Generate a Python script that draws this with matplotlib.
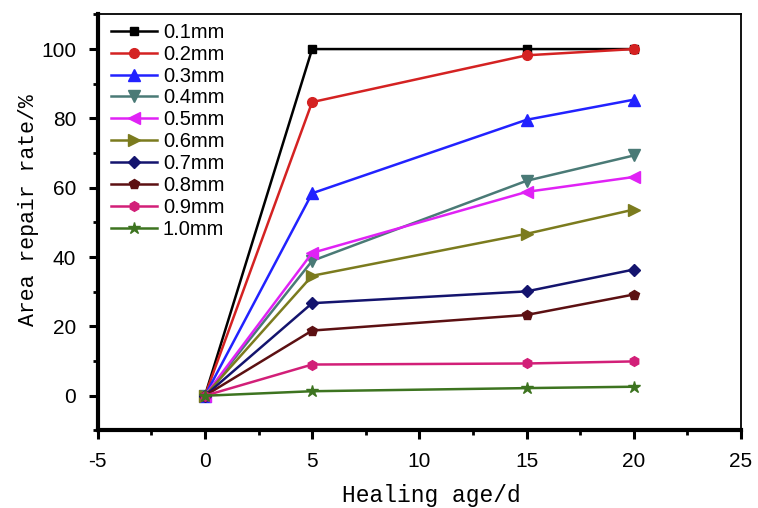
import numpy as np
import matplotlib
matplotlib.use('Agg')
import matplotlib.pyplot as plt
from matplotlib.ticker import MultipleLocator

plt.rcParams['axes.unicode_minus'] = False

# healing age (days) and area repair rate (%) per crack width
age = [0, 5, 15, 20]
widths = ['0.1mm', '0.2mm', '0.3mm', '0.4mm', '0.5mm',
          '0.6mm', '0.7mm', '0.8mm', '0.9mm', '1.0mm']
rate_01 = [0, 100, 100, 100]
rate_02 = [0, 84.7, 98.2, 100]
rate_03 = [0, 58.4, 79.6, 85.4]
rate_04 = [0, 38.9, 62.0, 69.3]
rate_05 = [0, 41.2, 58.8, 63.1]
rate_06 = [0, 34.6, 46.7, 53.7]
rate_07 = [0, 26.7, 30.1, 36.4]
rate_08 = [0, 18.8, 23.3, 29.2]
rate_09 = [0, 9.0, 9.3, 9.9]
rate_10 = [0, 1.3, 2.2, 2.6]
rates = [rate_01, rate_02, rate_03, rate_04, rate_05,
         rate_06, rate_07, rate_08, rate_09, rate_10]

colors = ['#000000', '#d42222', '#2222ff', '#4a7a76', '#e022f5',
          '#7b7b1e', '#14146e', '#5c1012', '#d21f78', '#3d7420']
markers = ['s', 'o', '^', 'v', '<', '>', 'D', 'p', 'h', '*']
msizes = [6, 7, 8, 8, 8, 8, 6, 7, 7, 9]

fig = plt.figure(figsize=(7.58, 5.08), dpi=100)
ax = fig.add_axes([97.7 / 758, 77.6 / 508, (741 - 97.7) / 758, 416 / 508])

for lab, r, c, m, ms in zip(widths, rates, colors, markers, msizes):
    ax.plot(age, r, color=c, marker=m, markersize=ms, linewidth=1.8,
            label=lab)

ax.set_xlim(-5, 25)
ax.set_ylim(-10, 110)
ax.xaxis.set_major_locator(MultipleLocator(5))
ax.xaxis.set_minor_locator(MultipleLocator(2.5))
ax.yaxis.set_major_locator(MultipleLocator(20))
ax.yaxis.set_minor_locator(MultipleLocator(10))

for side in ['left', 'bottom']:
    ax.spines[side].set_linewidth(3)
for side in ['right', 'top']:
    ax.spines[side].set_linewidth(1.3)

ax.tick_params(which='major', direction='out', length=6.5, width=2.2,
               pad=9, top=False, right=False)
ax.tick_params(which='minor', direction='out', length=3.5, width=2,
               top=False, right=False)
for t in ax.get_xticklabels() + ax.get_yticklabels():
    t.set_fontfamily('Liberation Sans')
    t.set_fontsize(15)

ax.set_xlabel('Healing age/d', fontfamily='Liberation Mono', fontsize=16.5)
ax.set_ylabel('Area repair rate/%', fontfamily='Liberation Mono', fontsize=15.5)
ax.xaxis.set_label_coords(0.519, -0.128)
ax.yaxis.set_label_coords(-0.092, 0.53)

ax.legend(loc='upper left', bbox_to_anchor=(0.02, 0.98), frameon=False,
          prop={'family': 'Liberation Sans', 'size': 14.5},
          handlelength=2.3, handletextpad=0.3, labelspacing=0.145,
          borderaxespad=0, borderpad=0)

fig.savefig('out.png', dpi=100)
